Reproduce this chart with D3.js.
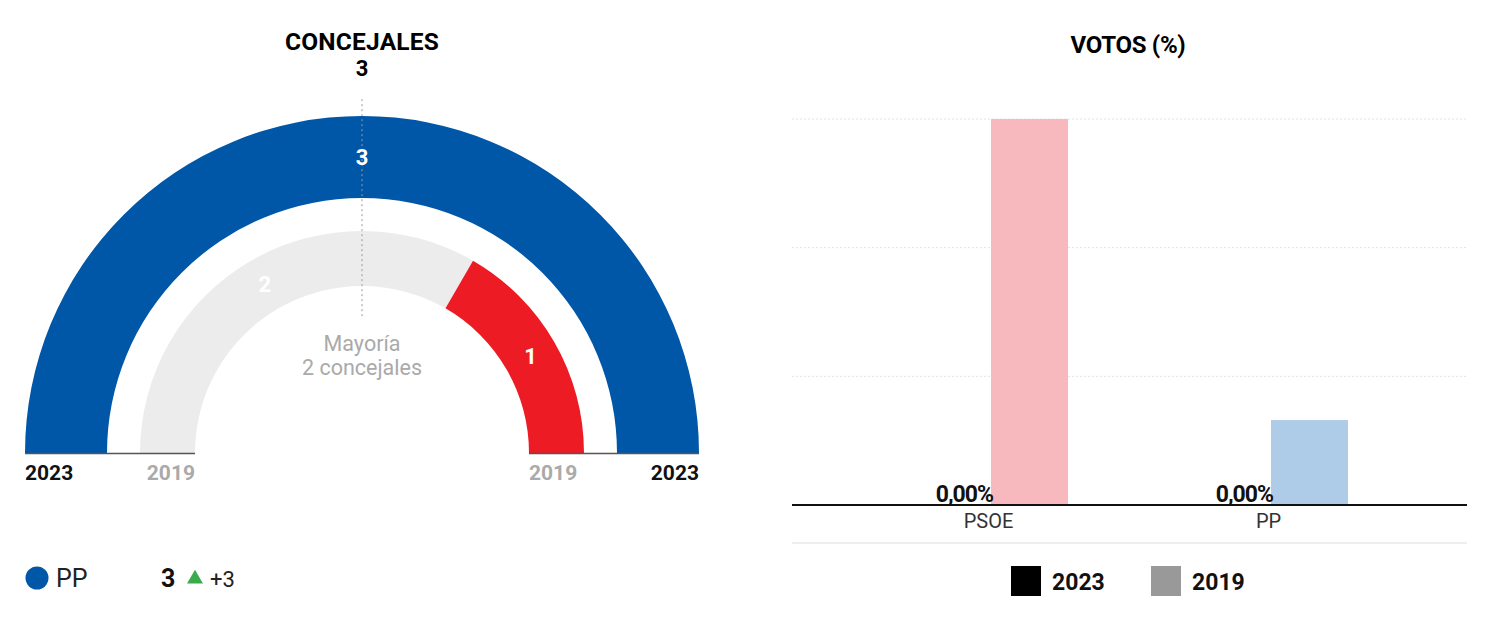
<!DOCTYPE html>
<html><head><meta charset="utf-8">
<script src="https://cdn.jsdelivr.net/npm/d3@7/dist/d3.min.js"></script>
<style>
html,body{margin:0;padding:0;background:#fff;}
svg{display:block;}
text{font-family:Roboto, "Liberation Sans", Arial, sans-serif;}
</style></head>
<body>
<svg id="c" width="1500" height="635"></svg>
<script>
// ---- Data ----
const seatsTotal = 3;
const majority = 2;
const seats2023Parties = ["PP"];
const seats2023Values = [3];
const seats2019Parties = ["Otros", "PSOE"];
const seats2019Values = [2, 1];
const seatColors = {PP: "#0056a7", PSOE: "#ed1c24", Otros: "#ececec"};
const legendParties = ["PP"];
const legendSeats = [3];
const legendDiff = ["+3"];

const voteParties = ["PSOE", "PP"];
const voteYears = ["2023", "2019"];
const votes2023 = [0, 0];
const votes2019 = [60, 13.2];
const voteLabels2023 = ["0,00%", "0,00%"];
const gridTicks = [20, 40, 60];
const votePastColors = {PSOE: "#f7b8be", PP: "#aecbe8"};
const legendYears = ["2023", "2019"];
const legendYearColors = ["#000000", "#999999"];

const svg = d3.select("#c");

// ---- Left: hemicycle ----
const cx = 362, cy = 453;
const g = svg.append("g").attr("transform", `translate(${cx},${cy})`);

svg.append("text").attr("x", cx).attr("y", 50).attr("text-anchor", "middle")
  .attr("font-size", 24.5).attr("font-weight", 700).attr("letter-spacing", 0.2).text("CONCEJALES");
svg.append("text").attr("x", cx).attr("y", 76).attr("text-anchor", "middle")
  .attr("font-size", 22).attr("font-weight", 700).text(seatsTotal);

const pie = d3.pie().sort(null).value(d => d.v).startAngle(-Math.PI/2).endAngle(Math.PI/2);
const outerArc = d3.arc().innerRadius(255).outerRadius(337);
const innerArc = d3.arc().innerRadius(167).outerRadius(222);

const d23 = pie(seats2023Parties.map((p,i)=>({p, v: seats2023Values[i]})));
const d19 = pie(seats2019Parties.map((p,i)=>({p, v: seats2019Values[i]})));

g.selectAll("path.o").data(d23).join("path").attr("class","o")
  .attr("d", outerArc).attr("fill", d => seatColors[d.data.p]);
g.selectAll("path.i").data(d19).join("path").attr("class","i")
  .attr("d", innerArc).attr("fill", d => seatColors[d.data.p]);

// majority dashed line
const rScale = d3.scaleLinear().domain([0, 1]).range([0, 337]);
g.append("line").attr("x1", 0).attr("x2", 0).attr("y1", -rScale(1.05)).attr("y2", -rScale(0.4))
  .attr("stroke", "#999").attr("stroke-width", 1).attr("stroke-dasharray", "2,3");

g.selectAll("text.o").data(d23).join("text").attr("class","o")
  .attr("transform", d => `translate(${outerArc.centroid(d)})`)
  .attr("text-anchor","middle").attr("dy","0.36em")
  .attr("font-size", 22).attr("font-weight", 700).attr("fill", "#fff").text(d => d.data.v);
g.selectAll("text.i").data(d19).join("text").attr("class","i")
  .attr("transform", d => `translate(${innerArc.centroid(d)})`)
  .attr("text-anchor","middle").attr("dy","0.36em")
  .attr("font-size", 22).attr("font-weight", 700).attr("fill", "#fff").text(d => d.data.v);

// baselines
[[-337,-167],[167,337]].forEach(([a,b]) => {
  g.append("line").attr("x1", a).attr("x2", b).attr("y1", 0.5).attr("y2", 0.5)
   .attr("stroke", "#555").attr("stroke-width", 1.5);
});
const yrLab = [
  {x: -337, t: "2023", c: "#111", a: "start"},
  {x: -167, t: "2019", c: "#aaa", a: "end"},
  {x: 167, t: "2019", c: "#aaa", a: "start"},
  {x: 337, t: "2023", c: "#111", a: "end"}];
g.selectAll("text.yr").data(yrLab).join("text").attr("class","yr")
  .attr("x", d => d.x).attr("y", 27).attr("text-anchor", d => d.a)
  .attr("font-size", 21).attr("font-weight", 700).attr("fill", d => d.c).text(d => d.t);

g.append("text").attr("x", 0).attr("y", -102).attr("text-anchor","middle")
  .attr("font-size", 21.5).attr("fill", "#aaa").text("Mayoría");
g.append("text").attr("x", 0).attr("y", -78).attr("text-anchor","middle")
  .attr("font-size", 21.5).attr("fill", "#aaa").text(majority + " concejales");

// legend
const lg = svg.append("g");
legendParties.forEach((p,i) => {
  const y = 578;
  lg.append("circle").attr("cx", 37).attr("cy", y).attr("r", 11.5).attr("fill", seatColors[p]);
  lg.append("text").attr("x", 56).attr("y", y+9).attr("font-size", 25).attr("fill","#222").text(p);
  lg.append("text").attr("x", 161).attr("y", y+9).attr("font-size", 25).attr("font-weight",700).attr("fill","#111").text(legendSeats[i]);
  lg.append("path").attr("d", d3.symbol().type(d3.symbolTriangle).size(110)())
    .attr("transform", `translate(195,${y+1})`).attr("fill", "#3aaa4a");
  lg.append("text").attr("x", 210).attr("y", y+9).attr("font-size", 22).attr("fill","#222").text(legendDiff[i]);
});

// ---- Right: votes bar chart ----
const left = 792, right = 1467;
const y = d3.scaleLinear().domain([0, 60]).range([505, 119]);
const x0 = d3.scaleBand().domain(voteParties).range([851, 1411]);
const barW = 77;
const x1 = d3.scaleBand().domain(voteYears)
  .range([x0.bandwidth()/2 - barW, x0.bandwidth()/2 + barW]);

svg.append("text").attr("x", 1128).attr("y", 53).attr("text-anchor","middle")
  .attr("font-size", 24).attr("font-weight", 700).attr("letter-spacing", -0.3).text("VOTOS (%)");

svg.append("g").selectAll("line").data(gridTicks).join("line")
  .attr("x1", left).attr("x2", right).attr("y1", d => y(d)).attr("y2", d => y(d))
  .attr("stroke", "#e2e2e2").attr("stroke-width", 1).attr("stroke-dasharray", "2,2");

const rows = voteParties.map((p,i) => ({p, v23: votes2023[i], v19: votes2019[i], lab: voteLabels2023[i]}));
const grp = svg.append("g").selectAll("g").data(rows).join("g")
  .attr("transform", d => `translate(${x0(d.p)},0)`);
grp.append("rect").attr("x", x1("2023")).attr("width", x1.bandwidth())
  .attr("y", d => y(d.v23)).attr("height", d => y(0) - y(d.v23)).attr("fill", "#000");
grp.append("rect").attr("x", x1("2019")).attr("width", x1.bandwidth())
  .attr("y", d => y(d.v19)).attr("height", d => y(0) - y(d.v19)).attr("fill", d => votePastColors[d.p]);
grp.append("text").attr("x", x1("2019") + 2).attr("y", y(0) - 3).attr("text-anchor", "end")
  .attr("font-size", 23).attr("font-weight", 700).attr("letter-spacing", -1).attr("fill", "#111")
  .text(d => d.lab);

// x axis
const xAxis = d3.axisBottom(d3.scalePoint().domain(voteParties).range([x0("PSOE")+x0.bandwidth()/2 - 3, x0("PP")+x0.bandwidth()/2 - 3]))
  .tickSize(0).tickPadding(9);
const ax = svg.append("g").attr("transform", `translate(0,${y(0)})`).call(xAxis);
ax.attr("font-size", 20);
ax.select(".domain").remove();
ax.selectAll("text").attr("font-family", "'Liberation Sans', Arial, sans-serif").attr("font-size", 20).attr("fill", "#333");
svg.append("line").attr("x1", left).attr("x2", right).attr("y1", y(0)).attr("y2", y(0))
  .attr("stroke", "#111").attr("stroke-width", 2);
svg.append("line").attr("x1", left).attr("x2", right).attr("y1", 543).attr("y2", 543)
  .attr("stroke", "#eeeeee").attr("stroke-width", 2);

// legend years
const ly = svg.append("g");
const lx = [1011, 1151];
legendYears.forEach((t,i) => {
  ly.append("rect").attr("x", lx[i]).attr("y", 566).attr("width", 30).attr("height", 30).attr("fill", legendYearColors[i]);
  ly.append("text").attr("x", lx[i] + 41).attr("y", 590).attr("font-size", 23).attr("font-weight", 700).attr("fill", "#111").text(t);
});
</script>
</body></html>
